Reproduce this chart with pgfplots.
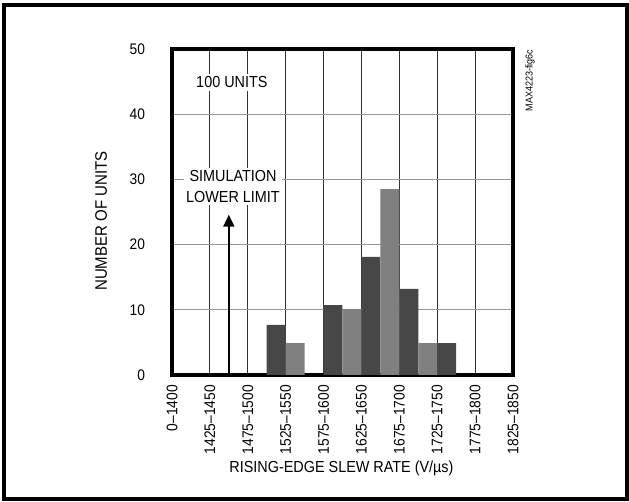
\documentclass[border=0pt]{standalone}
\usepackage{fontspec}
\setmainfont{Liberation Sans}[FakeStretch=0.9]
\usepackage{pgfplots}
\pgfplotsset{compat=1.18}
\usetikzlibrary{arrows.meta}

\begin{document}
\begin{tikzpicture}
\begin{scope}[x=0.75pt,y=0.75pt]
\useasboundingbox (-172,-127) rectangle (457,375);
\draw[line width=3pt] (-168,-124) rectangle (455,370);
\end{scope}
\begin{axis}[
  at={(0,0)}, anchor=south west,
  scale only axis, width=255.75pt, height=244.5pt,
  xmin=0, xmax=9, ymin=0, ymax=50,
  clip=false,
  axis line style={line width=2.6pt},
  xtick={0,...,9},
  xticklabels={0--1400,1425--1450,1475--1500,1525--1550,1575--1600,1625--1650,1675--1700,1725--1750,1775--1800,1825--1850},
  ytick={0,10,...,50},
  major tick length=0pt,
  xmajorgrids, ymajorgrids,
  x grid style={black!80, line width=0.6pt},
  y grid style={black!40, line width=1pt},
  /pgf/number format/assume math mode=true,
  tick label style={font=\fontsize{11.5}{13}\selectfont},
  yticklabel style={anchor=east, inner sep=0pt, xshift=-20pt},
  xticklabel style={rotate=90, anchor=east, inner xsep=7.5pt, inner ysep=0pt},
  xlabel={RISING-EDGE SLEW RATE (V/\textmu s)},
  ylabel={NUMBER OF UNITS},
  every axis x label/.style={at={(axis description cs:0.497,-0.285)}, anchor=center, font=\fontsize{12}{15}\selectfont},
  every axis y label/.style={at={(axis description cs:-0.208,0.472)}, rotate=90, anchor=center, font=\fontsize{12.5}{15}\selectfont},
]
\addplot[ybar, bar width=0.5, bar shift=0pt, fill=black!72, draw=none]
  coordinates {(2.75,7.7) (4.25,10.7) (5.25,18.1) (6.25,13.2) (7.25,4.9)};
\addplot[ybar, bar width=0.5, bar shift=0pt, fill=black!50, draw=none]
  coordinates {(3.25,4.9) (4.75,10.1) (5.75,28.5) (6.75,4.9)};
\draw[line width=1.8pt, -{Triangle[length=9pt,width=8pt]}] (axis cs:1.5,0) -- (axis cs:1.5,24.6);
\node[fill=white, inner sep=2pt, font=\fontsize{12}{14}\selectfont] at (axis cs:1.58,44.9) {100 UNITS};
\node[fill=white, inner sep=2pt, align=center, font=\fontsize{12}{15.5}\selectfont] at (axis cs:1.61,28.9) {SIMULATION\\LOWER LIMIT};
\node[rotate=90, font=\fontsize{7.5}{8}\selectfont] at (axis cs:9.45,45.2) {MAX4223-fig6c};
\end{axis}
\end{tikzpicture}
\end{document}
